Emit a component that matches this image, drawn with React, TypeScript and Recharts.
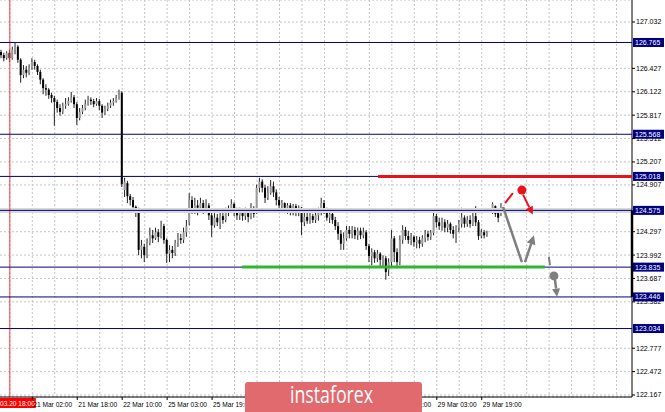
import React from 'react';
import {
  ComposedChart,
  Bar,
  XAxis,
  YAxis,
  CartesianGrid,
  ReferenceLine,
  ReferenceDot,
} from 'recharts';

// H1 candles [open, high, low, close], one per hour, starting 20 Mar 15:00
const candles: ([number, number, number, number] | null)[] = [
  [126.64, 126.67, 126.56, 126.60], [126.60, 126.63, 126.52, 126.56], [126.56, 126.65, 126.54, 126.63],
  [126.63, 126.67, 126.51, 126.56], [126.56, 126.71, 126.54, 126.67], [126.67, 126.76, 126.61, 126.71],
  [126.71, 126.73, 126.50, 126.54], [126.54, 126.56, 126.24, 126.34], [126.34, 126.47, 126.30, 126.41],
  [126.41, 126.46, 126.31, 126.37], [126.37, 126.48, 126.34, 126.43], [126.43, 126.56, 126.41, 126.51],
  [126.51, 126.54, 126.41, 126.46], [126.46, 126.48, 126.34, 126.38], [126.38, 126.41, 126.22, 126.28],
  [126.28, 126.30, 126.09, 126.17], [126.17, 126.22, 126.07, 126.15], [126.15, 126.17, 126.03, 126.08],
  [126.08, 126.11, 125.98, 126.04], [126.04, 126.07, 125.68, 125.99], [125.99, 126.02, 125.85, 125.91],
  [125.91, 125.96, 125.81, 125.86], [125.86, 125.98, 125.83, 125.94], [125.94, 126.04, 125.90, 125.96],
  [125.96, 126.05, 125.94, 126.00], [126.00, 126.12, 125.98, 126.05], [126.05, 126.08, 125.91, 125.96],
  [125.96, 125.99, 125.69, 125.78], [125.78, 125.91, 125.75, 125.86], [125.86, 125.95, 125.83, 125.91],
  [125.91, 126.02, 125.88, 125.96], [125.96, 126.07, 125.94, 126.02], [126.02, 126.05, 125.95, 126.00],
  [126.00, 126.03, 125.92, 125.96], [125.96, 126.04, 125.94, 126.00], [126.00, 126.03, 125.88, 125.94],
  [125.94, 125.96, 125.78, 125.85], [125.85, 125.94, 125.82, 125.90], [125.90, 125.98, 125.87, 125.94],
  [125.94, 126.02, 125.91, 125.98], [125.98, 126.04, 125.94, 126.00], [126.00, 126.08, 125.98, 126.04],
  [126.04, 126.15, 126.02, 126.09],
  // 22 Mar 10:00
  [126.11, 126.13, 124.88, 124.92], [124.84, 125.00, 124.75, 124.95], [124.93, 124.96, 124.67, 124.76],
  [124.76, 124.79, 124.64, 124.71], [124.71, 124.75, 124.55, 124.62], [124.62, 124.64, 124.49, 124.55],
  [124.58, 124.61, 123.99, 124.06], [124.06, 124.19, 123.95, 124.12], [124.10, 124.14, 123.90, 123.99],
  [123.99, 124.21, 123.95, 124.15], [124.15, 124.35, 124.12, 124.25], [124.25, 124.32, 124.15, 124.21],
  [124.21, 124.35, 124.19, 124.29], [124.29, 124.33, 124.16, 124.23], [124.23, 124.44, 124.21, 124.37],
  [124.37, 124.40, 124.14, 124.19], [124.19, 124.21, 123.89, 124.01], [124.01, 124.12, 123.90, 124.06],
  [124.06, 124.11, 123.95, 124.02], [124.02, 124.19, 123.98, 124.15], [124.15, 124.28, 124.10, 124.21],
  [124.21, 124.27, 124.14, 124.19], [124.19, 124.35, 124.15, 124.29], [124.29, 124.45, 124.23, 124.37],
  [124.42, 124.80, 124.38, 124.71], [124.71, 124.76, 124.53, 124.58], [124.58, 124.74, 124.53, 124.64],
  [124.64, 124.71, 124.51, 124.61], [124.61, 124.74, 124.55, 124.67], [124.67, 124.71, 124.53, 124.58],
  [124.58, 124.72, 124.54, 124.64], [124.64, 124.67, 124.45, 124.51], [124.51, 124.55, 124.23, 124.38],
  [124.38, 124.54, 124.35, 124.48], [124.48, 124.53, 124.37, 124.42], [124.42, 124.55, 124.33, 124.50],
  [124.50, 124.55, 124.40, 124.45], [124.45, 124.61, 124.42, 124.54], [124.54, 124.64, 124.50, 124.58],
  [124.58, 124.72, 124.54, 124.66], [124.66, 124.68, 124.50, 124.55], [124.55, 124.61, 124.45, 124.51],
  [124.51, 124.61, 124.45, 124.55], [124.55, 124.59, 124.44, 124.50], [124.50, 124.61, 124.45, 124.54],
  [124.54, 124.58, 124.42, 124.49], [124.49, 124.67, 124.46, 124.58], [124.58, 124.63, 124.48, 124.53],
  [124.55, 124.91, 124.53, 124.87], [124.87, 125.00, 124.81, 124.95], [124.95, 124.98, 124.81, 124.87],
  [124.87, 124.91, 124.67, 124.74], [124.74, 124.89, 124.71, 124.80], [124.80, 124.97, 124.78, 124.89],
  [124.89, 124.95, 124.75, 124.81], [124.81, 124.85, 124.64, 124.71], [124.71, 124.75, 124.59, 124.64],
  [124.64, 124.71, 124.58, 124.67], [124.67, 124.68, 124.54, 124.61], [124.61, 124.67, 124.53, 124.64],
  [124.64, 124.67, 124.51, 124.58], [124.58, 124.66, 124.51, 124.63], [124.63, 124.66, 124.50, 124.57],
  [124.57, 124.64, 124.50, 124.61], [124.61, 124.62, 124.25, 124.42], [124.42, 124.55, 124.37, 124.49],
  [124.49, 124.54, 124.40, 124.44], [124.44, 124.54, 124.40, 124.50], [124.50, 124.53, 124.41, 124.45],
  [124.45, 124.55, 124.41, 124.51], [124.51, 124.61, 124.44, 124.54], [124.54, 124.74, 124.51, 124.67],
  [124.67, 124.71, 124.53, 124.57], [124.57, 124.61, 124.44, 124.48], [124.48, 124.59, 124.41, 124.53],
  [124.53, 124.57, 124.40, 124.45], [124.45, 124.49, 124.32, 124.37], [124.37, 124.42, 124.19, 124.27],
  [124.27, 124.32, 124.06, 124.14], [124.14, 124.29, 124.06, 124.21], [124.21, 124.37, 124.18, 124.32],
  [124.32, 124.37, 124.21, 124.27], [124.27, 124.37, 124.21, 124.32], [124.32, 124.36, 124.20, 124.25],
  [124.25, 124.35, 124.19, 124.31], [124.31, 124.35, 124.20, 124.25], [124.25, 124.35, 124.21, 124.29],
  [124.29, 124.32, 124.06, 124.11], [124.11, 124.14, 123.90, 123.98], [123.98, 124.08, 123.86, 124.03],
  [124.03, 124.06, 123.89, 123.95], [123.95, 124.06, 123.90, 124.01], [124.01, 124.03, 123.85, 123.93],
  [123.93, 123.99, 123.85, 123.95], [123.95, 123.98, 123.67, 123.77], [123.80, 123.95, 123.72, 123.90],
  [123.90, 124.32, 123.85, 124.21], [124.21, 124.24, 123.90, 124.03], [124.03, 124.08, 123.82, 123.90],
  [123.90, 124.25, 123.86, 124.19], [124.19, 124.38, 124.14, 124.32], [124.32, 124.36, 124.19, 124.24],
  [124.24, 124.31, 124.14, 124.19], [124.19, 124.28, 124.12, 124.23], [124.23, 124.25, 124.10, 124.16],
  [124.16, 124.24, 124.08, 124.19], [124.19, 124.23, 124.08, 124.14], [124.14, 124.25, 124.10, 124.21],
  [124.21, 124.32, 124.16, 124.27], [124.27, 124.31, 124.18, 124.23], [124.23, 124.32, 124.19, 124.28],
  [124.28, 124.55, 124.25, 124.50], [124.50, 124.53, 124.35, 124.42], [124.42, 124.48, 124.32, 124.37],
  [124.37, 124.48, 124.31, 124.42], [124.42, 124.46, 124.29, 124.35], [124.35, 124.45, 124.29, 124.40],
  [124.40, 124.42, 124.27, 124.32], [124.32, 124.37, 124.21, 124.27], [124.27, 124.38, 124.15, 124.35],
  [124.35, 124.45, 124.29, 124.40], [124.40, 124.61, 124.35, 124.48], [124.48, 124.51, 124.35, 124.40],
  [124.40, 124.50, 124.36, 124.45], [124.45, 124.51, 124.35, 124.40], [124.40, 124.55, 124.37, 124.50],
  [124.50, 124.63, 124.37, 124.42], [124.42, 124.45, 124.19, 124.24], [124.24, 124.33, 124.21, 124.29],
  [124.29, 124.32, 124.21, 124.25], [124.25, 124.31, 124.23, 124.28],
  null,
  [124.55, 124.68, 124.53, 124.66], [124.63, 124.64, 124.49, 124.53], [124.54, 124.59, 124.42, 124.48],
  [124.53, 124.67, 124.50, 124.62],
];

// labels under the logo are left out, as in the picture
const timeTicks = [11, 27, 43, 59, 75, 139, 155, 171];
const timeLabels = [
  '21 Mar 02:00', '21 Mar 18:00', '22 Mar 10:00', '25 Mar 03:00', '25 Mar 19:00',
  '28 Mar 11:00', '29 Mar 03:00', '29 Mar 19:00',
];
const gridBars = [3, 11, 19, 27, 35, 43, 51, 59, 67, 75, 83, 91, 99, 107, 115, 123, 131, 139, 147, 155, 163, 171, 179, 187, 195, 203, 211, 219];

const priceTicks = [
  127.032, 126.427, 126.122, 125.817, 125.512, 125.207, 124.907,
  124.297, 123.992, 123.687, 123.382, 122.777, 122.472, 122.167,
];
const levels = [126.765, 125.568, 125.018, 124.575, 123.835, 123.446, 123.034];

const crosshairBar = 3;
const crosshairLabel = '2019.03.20 18:00';
const resistance = { level: 125.018, from: 134.1, to: 224.5 };
const support = { level: 123.835, from: 85.6, to: 193.5 };

// scenario sketch, [bar, price]
const redDash: [number, number][] = [[179.3, 124.67], [182.1, 124.8]];
const redDot: [number, number] = [185.3, 124.84];
const redArrow: [number, number][] = [[185.7, 124.78], [189.2, 124.52]];
const grayLeg: [number, number][] = [[178.6, 124.62], [185.3, 123.9]];
const grayArrowUp: [number, number][] = [[186.4, 123.9], [189.6, 124.25]];
const grayTick: [number, number][] = [[194.9, 123.97], [195.3, 123.86]];
const grayDot: [number, number] = [196.7, 123.72];
const grayArrowDown: [number, number][] = [[197.1, 123.67], [197.8, 123.45]];

const table = candles
  .map((c, i) => (c ? { i, o: c[0], h: c[1], l: c[2], c: c[3], range: [c[2], c[1]] } : null))
  .filter(Boolean) as { i: number; o: number; h: number; l: number; c: number; range: number[] }[];

const FONT = 'Liberation Sans, Arial, sans-serif';

const Candle = (props: any) => {
  const { x, y, width, height, payload } = props;
  if (x == null || y == null) return null;
  const top = Math.min(y, y + height);
  const bottom = Math.max(y, y + height);
  const span = payload.h - payload.l;
  const k = span > 0 ? (bottom - top) / span : 0;
  const yo = top + (payload.h - payload.o) * k;
  const yc = top + (payload.h - payload.c) * k;
  const cx = x + width / 2;
  const bull = payload.c >= payload.o;
  const bTop = Math.min(yo, yc);
  const bH = Math.max(1, Math.abs(yc - yo));
  return (
    <g>
      <line x1={cx} x2={cx} y1={top} y2={bottom} stroke="#222" strokeWidth={1} />
      <rect x={x} y={bTop} width={width} height={bH} fill={bull ? '#9a9a9a' : '#000'} />
    </g>
  );
};

const PriceTag = (props: any) => {
  const { viewBox, text } = props;
  if (!viewBox) return null;
  const x = viewBox.x + viewBox.width;
  const y = viewBox.y;
  return (
    <g>
      <rect x={x + 1} y={y - 4.5} width={31} height={9} fill="#000080" />
      <text x={x + 3} y={y} dy="0.35em" fontSize={7} fontFamily={FONT} fill="#fff">
        {text}
      </text>
    </g>
  );
};

const CrossLabel = (props: any) => {
  const { viewBox } = props;
  if (!viewBox) return null;
  const x = viewBox.x;
  const y = viewBox.y + viewBox.height;
  return (
    <g>
      <rect x={x - 28} y={y + 1} width={54} height={10} fill="#ff0000" />
      <text x={x + 25} y={y + 9} textAnchor="end" fontSize={6.6} fontFamily={FONT} fill="#fff">
        {crosshairLabel}
      </text>
    </g>
  );
};

const TimeTick = (props: any) => {
  const { x, y, payload } = props;
  const idx = timeTicks.indexOf(payload.value);
  return (
    <text x={x + 1} y={y + 6} fontSize={6.6} fontFamily={FONT} fill="#000">
      {timeLabels[idx]}
    </text>
  );
};

const arrowShape = (head: number, half: number) => (props: any) => {
  const { x1, y1, x2, y2, stroke, strokeWidth } = props;
  const a = Math.atan2(y2 - y1, x2 - x1);
  const bx = x2 - head * Math.cos(a);
  const by = y2 - head * Math.sin(a);
  const px = half * Math.sin(a);
  const py = half * Math.cos(a);
  return (
    <g>
      <line x1={x1} y1={y1} x2={bx} y2={by} stroke={stroke} strokeWidth={strokeWidth} />
      <polygon points={`${x2},${y2} ${bx + px},${by - py} ${bx - px},${by + py}`} fill={stroke} />
    </g>
  );
};

const seg = (p: [number, number][]) => [
  { x: p[0][0], y: p[0][1] },
  { x: p[1][0], y: p[1][1] },
];

export default function App() {
  return (
    <div
      style={{
        position: 'absolute',
        left: 0,
        top: 0,
        width: 665,
        height: 412,
        background: '#fff',
        overflow: 'hidden',
      }}
    >
      <ComposedChart width={665} height={412} data={table} margin={{ top: 0, right: 0, bottom: 0, left: 0 }}>
        <CartesianGrid stroke="#c4c4c4" strokeDasharray="2 2" verticalValues={gridBars} />
        <XAxis
          dataKey="i"
          type="number"
          domain={[-0.5, 224.5]}
          allowDataOverflow
          ticks={timeTicks}
          interval={0}
          height={15}
          tickSize={3}
          tickMargin={1}
          axisLine={{ stroke: '#000' }}
          tickLine={{ stroke: '#000' }}
          tick={<TimeTick />}
        />
        <YAxis
          orientation="right"
          width={33}
          domain={[122.141, 127.319]}
          allowDataOverflow
          ticks={priceTicks}
          interval={0}
          tickSize={3}
          tickMargin={1}
          axisLine={{ stroke: '#000' }}
          tickLine={{ stroke: '#000' }}
          tick={{ fontSize: 7, fill: '#000', fontFamily: FONT }}
          tickFormatter={(v: number) => v.toFixed(3)}
        />
        <ReferenceLine y={124.575} stroke="#d9d9d9" strokeWidth={5} />
        <Bar dataKey="range" barSize={2} shape={<Candle />} isAnimationActive={false} />
        <ReferenceLine x={crosshairBar} stroke="#ff3b3b" strokeWidth={1} label={<CrossLabel />} />
        {levels.map((lv) => (
          <ReferenceLine
            key={lv}
            y={lv}
            stroke="#000080"
            strokeWidth={1}
            zIndex={2100}
            label={<PriceTag text={lv.toFixed(3)} />}
          />
        ))}
        <ReferenceLine
          segment={[{ x: resistance.from, y: resistance.level }, { x: resistance.to, y: resistance.level }]}
          stroke="#e8121b"
          strokeWidth={3}
          zIndex={2200}
        />
        <ReferenceLine
          segment={[{ x: support.from, y: support.level }, { x: support.to, y: support.level }]}
          stroke="#2fb52f"
          strokeWidth={3}
          zIndex={2200}
        />
        <ReferenceLine
          segment={[{ x: 224.5, y: 124.575 }, { x: 224.5, y: 123.446 }]}
          stroke="#000"
          strokeWidth={2.5}
          ifOverflow="visible"
          zIndex={2200}
        />
        <ReferenceLine segment={seg(redDash)} stroke="#e8121b" strokeWidth={2} zIndex={2200} />
        <ReferenceLine segment={seg(redArrow)} stroke="#e8121b" strokeWidth={2} shape={arrowShape(8, 4)} zIndex={2200} />
        <ReferenceDot x={redDot[0]} y={redDot[1]} r={4.5} fill="#e8121b" stroke="none" zIndex={2200} />
        <ReferenceLine segment={seg(grayLeg)} stroke="#7f7f7f" strokeWidth={2.5} zIndex={2200} />
        <ReferenceLine segment={seg(grayArrowUp)} stroke="#7f7f7f" strokeWidth={2.5} shape={arrowShape(9, 4.5)} zIndex={2200} />
        <ReferenceLine segment={seg(grayTick)} stroke="#7f7f7f" strokeWidth={2} zIndex={2200} />
        <ReferenceDot x={grayDot[0]} y={grayDot[1]} r={4.5} fill="#7f7f7f" stroke="none" zIndex={2200} />
        <ReferenceLine segment={seg(grayArrowDown)} stroke="#7f7f7f" strokeWidth={2.5} shape={arrowShape(8, 4)} zIndex={2200} />
      </ComposedChart>
      <svg width={177} height={30} style={{ position: 'absolute', left: 245, top: 382 }}>
        <rect x={0} y={0} width={177} height={34} rx={3} fill="#e06a6e" />
        <text
          x={45}
          y={21}
          fontSize={24}
          fontFamily="Open Sans, sans-serif"
          fill="#fff"
          textLength={83}
          lengthAdjust="spacingAndGlyphs"
        >
          instaforex
        </text>
      </svg>
    </div>
  );
}
